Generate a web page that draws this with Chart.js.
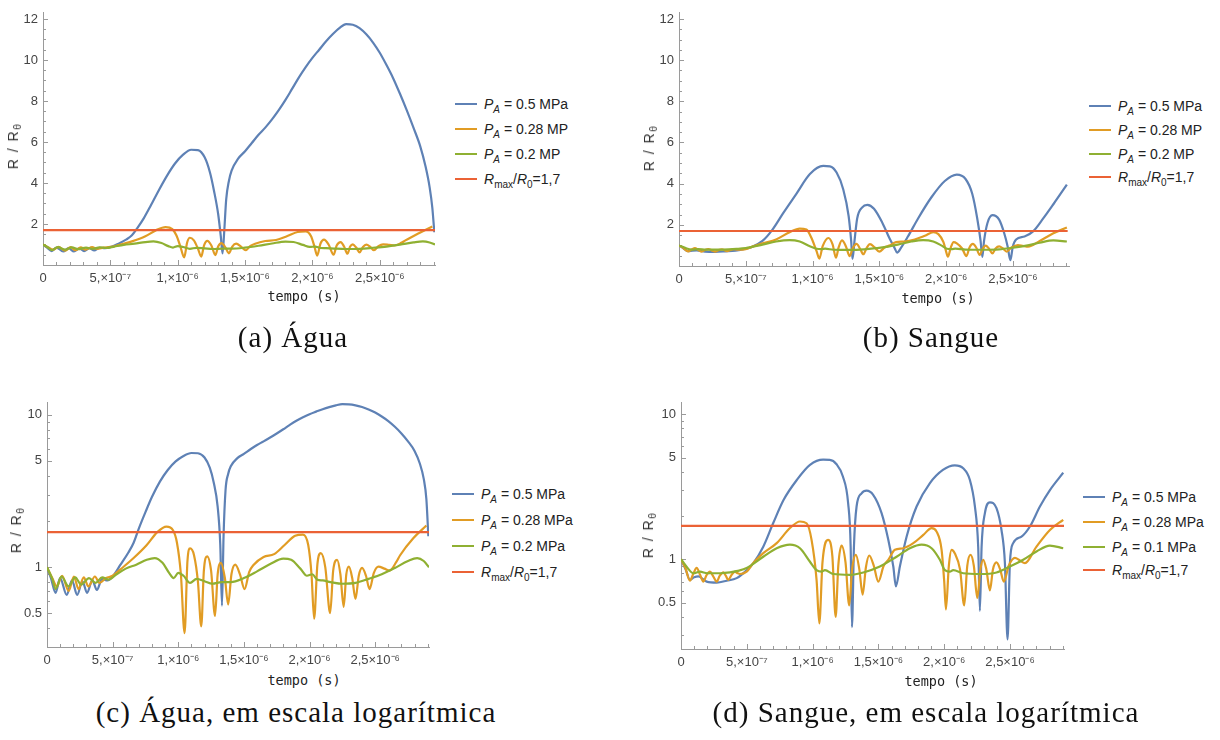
<!DOCTYPE html>
<html><head><meta charset="utf-8">
<script src="https://cdn.jsdelivr.net/npm/chart.js@4.4.1/dist/chart.umd.min.js"></script>
<style>
body{margin:0;background:#fff;width:1220px;height:740px;position:relative;overflow:hidden;font-family:'Liberation Sans',Arial,sans-serif;}
canvas{position:absolute;}
.ylab{position:absolute;transform:translate(-50%,-50%) rotate(-90deg);font-size:14px;color:#333;white-space:nowrap;letter-spacing:1.5px}
.ylab sub{font-size:10px;vertical-align:-3px;line-height:0}
.xlab{position:absolute;transform:translate(-50%,-50%);font-family:'DejaVu Sans Mono',monospace;font-size:13.5px;color:#222;white-space:nowrap}
.row{position:absolute;white-space:nowrap;transform:translateY(-50%);font-size:14px;color:#222;line-height:16px}
.row sub{font-size:10px;vertical-align:-4px;line-height:0}
.sw{position:absolute;height:2px;transform:translateY(-50%)}
.cap{position:absolute;transform:translate(-50%,-50%);font-family:'Liberation Serif',serif;font-size:29px;white-space:nowrap;color:#111;letter-spacing:1px}
</style></head>
<body>
<script>
// ---------- DATA (time in microseconds, value R/R0) ----------
const US = 1e-6;
// Water (a) and (c)
const waterBlue = [[0,1.0],[0.03,0.85],[0.065,0.68],[0.10,0.85],[0.15,0.66],[0.19,0.82],[0.23,0.66],[0.27,0.81],[0.305,0.68],[0.345,0.82],[0.38,0.71],[0.42,0.84],[0.46,0.82],[0.50,0.87],[0.56,1.04],[0.62,1.25],[0.66,1.45],[0.70,1.80],[0.75,2.3],[0.80,2.9],[0.86,3.65],[0.92,4.35],[0.98,4.95],[1.04,5.38],[1.10,5.62],[1.15,5.6],[1.20,5.25],[1.24,4.5],[1.27,3.6],[1.30,2.5],[1.32,1.4],[1.333,0.56],[1.345,1.6],[1.36,3.2],[1.38,4.1],[1.40,4.6],[1.45,5.2],[1.50,5.55],[1.55,5.95],[1.60,6.35],[1.65,6.7],[1.70,7.1],[1.75,7.55],[1.80,8.05],[1.85,8.6],[1.90,9.15],[1.95,9.65],[2.00,10.1],[2.05,10.5],[2.10,10.9],[2.15,11.25],[2.20,11.55],[2.25,11.75],[2.30,11.72],[2.35,11.55],[2.40,11.25],[2.45,10.85],[2.50,10.35],[2.55,9.75],[2.60,9.1],[2.65,8.35],[2.70,7.55],[2.75,6.7],[2.80,5.8],[2.84,4.8],[2.87,3.8],[2.89,2.8],[2.905,1.6]];
const waterOrange = [[0,1.0],[0.04,0.85],[0.075,0.75],[0.115,0.88],[0.165,0.70],[0.205,0.87],[0.24,0.72],[0.28,0.86],[0.315,0.75],[0.365,0.87],[0.40,0.79],[0.45,0.85],[0.50,0.88],[0.56,0.97],[0.66,1.15],[0.76,1.4],[0.84,1.7],[0.91,1.85],[0.96,1.75],[0.99,1.45],[1.02,0.9],[1.048,0.37],[1.07,1.1],[1.09,1.33],[1.12,1.2],[1.15,0.8],[1.175,0.41],[1.195,0.95],[1.22,1.18],[1.25,0.95],[1.28,0.48],[1.30,0.9],[1.325,1.07],[1.355,0.85],[1.38,0.57],[1.405,0.9],[1.434,1.04],[1.47,0.9],[1.505,0.72],[1.54,0.93],[1.575,1.04],[1.65,1.17],[1.73,1.22],[1.81,1.4],[1.89,1.61],[1.95,1.64],[1.99,1.4],[2.015,0.9],[2.035,0.46],[2.06,1.05],[2.086,1.24],[2.12,1.0],[2.157,0.50],[2.18,0.95],[2.21,1.12],[2.235,0.9],[2.26,0.55],[2.28,0.9],[2.30,1.01],[2.325,0.85],[2.35,0.62],[2.375,0.88],[2.40,0.99],[2.43,0.88],[2.457,0.72],[2.49,0.92],[2.525,1.01],[2.57,0.98],[2.61,0.95],[2.66,1.08],[2.69,1.2],[2.79,1.55],[2.89,1.88]];
const waterGreen = [[0,1.0],[0.04,0.84],[0.065,0.72],[0.11,0.87],[0.165,0.75],[0.215,0.86],[0.26,0.77],[0.32,0.85],[0.37,0.79],[0.42,0.86],[0.47,0.83],[0.53,0.90],[0.60,0.98],[0.68,1.04],[0.76,1.12],[0.82,1.15],[0.88,1.07],[0.93,0.92],[0.965,0.85],[1.0,0.92],[1.04,0.88],[1.09,0.79],[1.14,0.84],[1.20,0.81],[1.26,0.78],[1.33,0.8],[1.40,0.8],[1.50,0.85],[1.60,0.94],[1.70,1.05],[1.80,1.14],[1.86,1.12],[1.93,0.98],[1.98,0.88],[2.02,0.9],[2.06,0.83],[2.10,0.82],[2.16,0.8],[2.25,0.78],[2.35,0.79],[2.45,0.84],[2.55,0.9],[2.65,0.99],[2.75,1.1],[2.82,1.15],[2.87,1.1],[2.91,1.0]];
// Blood (b) and (d)
const bloodBlue = [[0,1.0],[0.035,0.85],[0.068,0.72],[0.10,0.75],[0.132,0.76],[0.195,0.70],[0.271,0.69],[0.347,0.71],[0.423,0.74],[0.50,0.84],[0.55,0.94],[0.625,1.22],[0.70,1.77],[0.78,2.57],[0.88,3.52],[0.98,4.47],[1.08,4.86],[1.13,4.84],[1.18,4.54],[1.23,3.72],[1.27,2.43],[1.289,1.22],[1.299,0.34],[1.314,1.22],[1.334,2.31],[1.372,2.85],[1.41,2.97],[1.46,2.78],[1.524,2.08],[1.575,1.36],[1.613,0.89],[1.633,0.65],[1.663,0.89],[1.714,1.43],[1.79,2.31],[1.89,3.34],[1.99,4.13],[2.08,4.44],[2.144,4.24],[2.195,3.52],[2.233,2.31],[2.258,1.22],[2.271,0.44],[2.284,1.22],[2.309,2.08],[2.347,2.47],[2.397,2.25],[2.435,1.59],[2.461,0.94],[2.481,0.28],[2.499,0.94],[2.524,1.29],[2.587,1.43],[2.651,1.68],[2.727,2.31],[2.803,3.0],[2.904,3.95]];
const bloodOrange = [[0,1.0],[0.035,0.86],[0.068,0.71],[0.095,0.8],[0.119,0.87],[0.145,0.78],[0.17,0.70],[0.195,0.78],[0.22,0.82],[0.245,0.76],[0.271,0.70],[0.295,0.77],[0.322,0.81],[0.34,0.77],[0.359,0.72],[0.385,0.78],[0.41,0.82],[0.43,0.8],[0.448,0.79],[0.499,0.82],[0.549,0.94],[0.625,1.1],[0.727,1.29],[0.828,1.64],[0.904,1.82],[0.954,1.77],[0.992,1.36],[1.03,0.72],[1.051,0.36],[1.075,0.95],[1.119,1.36],[1.15,1.05],[1.175,0.40],[1.195,0.9],[1.22,1.24],[1.25,0.95],[1.278,0.48],[1.30,0.85],[1.329,1.07],[1.355,0.85],[1.38,0.57],[1.405,0.88],[1.43,1.06],[1.465,0.9],[1.499,0.70],[1.54,0.9],[1.575,0.99],[1.625,1.16],[1.689,1.19],[1.765,1.29],[1.841,1.47],[1.904,1.64],[1.942,1.55],[1.98,1.16],[2.0,0.7],[2.013,0.45],[2.035,0.9],[2.056,1.16],[2.08,1.1],[2.12,0.85],[2.152,0.48],[2.175,0.9],[2.2,1.07],[2.225,0.9],[2.251,0.54],[2.275,0.85],[2.296,0.99],[2.32,0.85],[2.347,0.61],[2.37,0.85],[2.397,0.95],[2.425,0.85],[2.453,0.70],[2.49,0.9],[2.537,1.02],[2.575,0.98],[2.613,0.94],[2.701,1.22],[2.803,1.59],[2.904,1.87]];
const bloodGreen = [[0,1.0],[0.05,0.87],[0.094,0.80],[0.144,0.82],[0.20,0.80],[0.30,0.80],[0.372,0.81],[0.43,0.83],[0.499,0.87],[0.625,1.04],[0.727,1.19],[0.828,1.26],[0.904,1.19],[0.98,0.96],[1.03,0.84],[1.068,0.82],[1.094,0.84],[1.157,0.79],[1.284,0.78],[1.385,0.81],[1.511,0.89],[1.638,1.04],[1.739,1.19],[1.828,1.26],[1.904,1.19],[1.967,0.99],[2.005,0.84],[2.043,0.82],[2.068,0.84],[2.144,0.80],[2.271,0.79],[2.397,0.81],[2.499,0.89],[2.6,0.99],[2.701,1.13],[2.803,1.24],[2.904,1.19]];
// Threshold line Rmax/R0 = 1.7
const rmaxT = [0, 2.91];
const rmaxV = [1.7, 1.7];

// Ticks
const xTickVals = [0, 0.5, 1, 1.5, 2, 2.5];
const xTickLabels = ['0', '5,×10⁻⁷', '1,×10⁻⁶', '1,5×10⁻⁶', '2,×10⁻⁶', '2,5×10⁻⁶'];
const yLinTicks = [2, 4, 6, 8, 10, 12];
const yLogTicks = [0.5, 1, 5, 10];
const yLogMinor = [0.3, 0.4, 0.6, 0.7, 0.8, 0.9, 2, 3, 4, 6, 7, 8, 9];

// Legends
const PA = '<i>P</i><sub><i>A</i></sub>';
const RR = '<i>R</i><sub>max</sub>/<i>R</i><sub>0</sub>=1,7';
const legendA = [PA + ' = 0.5 MPa', PA + ' = 0.28 MP', PA + ' = 0.2 MP', RR];
const legendB = [PA + ' = 0.5 MPa', PA + ' = 0.28 MP', PA + ' = 0.2 MP', RR];
const legendC = [PA + ' = 0.5 MPa', PA + ' = 0.28 MPa', PA + ' = 0.2 MPa', RR];
const legendD = [PA + ' = 0.5 MPa', PA + ' = 0.28 MPa', PA + ' = 0.1 MPa', RR];
const captions = ['(a) Água', '(b) Sangue', '(c) Água, em escala logarítmica', '(d) Sangue, em escala logarítmica'];

const COLORS = ['#5E81B5', '#E19C24', '#8FB032', '#EB6235'];

// ---------- LAYOUT ----------
const panels = [
  {left:0, top:0, w:440, h:292, log:false, ymin:0, ymax:12.3, xmax:2.91, pad:{left:0,right:5,top:8,bottom:0}, yw:43, xh:27,
   series:[waterBlue, waterOrange, waterGreen], legend:legendA, legY:[104,129,154,179], legX:455, ylab:[13,146], xlab:[304,296], cap:[293,337]},
  {left:636, top:0, w:440, h:292, log:false, ymin:0, ymax:12.3, xmax:2.92, pad:{left:0,right:7,top:9,bottom:0}, yw:43, xh:26,
   series:[bloodBlue, bloodOrange, bloodGreen], legend:legendB, legY:[106,130,154,177], legX:1089, ylab:[649,148], xlab:[938,298], cap:[931,337]},
  {left:0, top:390, w:440, h:282, log:true, ymin:0.314, ymax:12, xmax:2.91, pad:{left:0,right:11,top:12,bottom:0}, yw:47, xh:25,
   series:[waterBlue, waterOrange, waterGreen], legend:legendC, legY:[494,520,546,572], legX:452, ylab:[16,530], xlab:[304,680], cap:[296,712]},
  {left:636, top:390, w:440, h:284, log:true, ymin:0.24, ymax:12, xmax:2.91, pad:{left:0,right:12,top:12,bottom:0}, yw:45, xh:25,
   series:[bloodBlue, bloodOrange, bloodGreen], legend:legendD, legY:[497,522,547,570], legX:1083, ylab:[648,535], xlab:[941,681], cap:[926,712]}
];

const toPts = arr => arr.map(([t, v]) => ({x: t * US, y: v}));

const mmaTicks = {
  id: 'mmaTicks',
  beforeDatasetsDraw(chart, args, o) {
    const {ctx, chartArea: a, scales: {x, y}} = chart;
    ctx.save();
    ctx.strokeStyle = '#9a9a9a';
    ctx.lineWidth = 1;
    const xt = (v, len) => { const p = Math.round(x.getPixelForValue(v)) + 0.5; ctx.beginPath(); ctx.moveTo(p, a.bottom); ctx.lineTo(p, a.bottom - len); ctx.stroke(); };
    const yt = (v, len) => { const p = Math.round(y.getPixelForValue(v)) + 0.5; if (p < a.top - 1 || p > a.bottom + 1) return; ctx.beginPath(); ctx.moveTo(a.left, p); ctx.lineTo(a.left + len, p); ctx.stroke(); };
    for (let i = 1; i * 0.1 <= o.xmax + 1e-9; i++) { const v = i * 0.1; xt(v * US, (i % 5 === 0) ? 5 : 3); }
    if (o.log) {
      yLogTicks.forEach(v => yt(v, 5));
      yLogMinor.forEach(v => yt(v, 3));
    } else {
      for (let i = 1; i * 0.5 <= o.ymax; i++) yt(i * 0.5, (i % 4 === 0) ? 5 : 3);
    }
    ctx.restore();
  }
};

panels.forEach((p, k) => {
  const c = document.createElement('canvas');
  c.width = p.w; c.height = p.h;
  c.style.left = p.left + 'px'; c.style.top = p.top + 'px';
  c.style.width = p.w + 'px'; c.style.height = p.h + 'px';
  document.body.appendChild(c);

  const ds = p.series.map((s, i) => ({
    data: toPts(s), borderColor: COLORS[i], borderWidth: 2.2, pointRadius: 0,
    cubicInterpolationMode: 'monotone', order: 4 - i, fill: false
  }));
  ds.push({data: rmaxT.map((t, i) => ({x: t * US, y: rmaxV[i]})), borderColor: COLORS[3], borderWidth: 2.2, pointRadius: 0, order: 0, fill: false});

  new Chart(c, {
    type: 'line',
    data: {datasets: ds},
    plugins: [mmaTicks],
    options: {
      responsive: false, animation: false, devicePixelRatio: 1,
      layout: {padding: p.pad},
      plugins: {legend: {display: false}, tooltip: {enabled: false}, mmaTicks: {log: p.log, xmax: p.xmax, ymax: p.ymax}},
      scales: {
        x: {
          type: 'linear', min: 0, max: p.xmax * US,
          grid: {display: false, drawTicks: false}, border: {display: true, color: '#9a9a9a', width: 1},
          afterBuildTicks: s => { s.ticks = xTickVals.map(v => ({value: v * US})); },
          afterFit: s => { s.height = p.xh; },
          ticks: {autoSkip: false, maxRotation: 0, padding: 6, color: '#444', font: {family: "'Liberation Sans', Arial, sans-serif", size: 13},
                  callback: (v, i) => xTickLabels[i]}
        },
        y: {
          type: p.log ? 'logarithmic' : 'linear', min: p.ymin, max: p.ymax,
          grid: {display: false, drawTicks: false}, border: {display: true, color: '#9a9a9a', width: 1},
          afterBuildTicks: s => { s.ticks = (p.log ? yLogTicks : yLinTicks).map(v => ({value: v})); },
          afterFit: s => { s.width = p.yw; },
          ticks: {autoSkip: false, padding: 5, color: '#444', font: {family: "'Liberation Sans', Arial, sans-serif", size: 13},
                  callback: (v, i) => String((p.log ? yLogTicks : yLinTicks)[i])}
        }
      }
    }
  });

  // axis titles
  const yl = document.createElement('div');
  yl.className = 'ylab'; yl.innerHTML = 'R / R<sub>θ</sub>';
  yl.style.left = p.ylab[0] + 'px'; yl.style.top = p.ylab[1] + 'px';
  document.body.appendChild(yl);
  const xl = document.createElement('div');
  xl.className = 'xlab'; xl.textContent = 'tempo (s)';
  xl.style.left = p.xlab[0] + 'px'; xl.style.top = p.xlab[1] + 'px';
  document.body.appendChild(xl);

  // legend
  p.legend.forEach((txt, i) => {
    const sw = document.createElement('div');
    sw.className = 'sw'; sw.style.background = COLORS[i];
    sw.style.left = p.legX + 'px'; sw.style.width = '22px'; sw.style.top = p.legY[i] + 'px';
    document.body.appendChild(sw);
    const r = document.createElement('div');
    r.className = 'row'; r.innerHTML = txt;
    r.style.left = (p.legX + 29) + 'px'; r.style.top = p.legY[i] + 'px';
    document.body.appendChild(r);
  });

  // caption
  const cp = document.createElement('div');
  cp.className = 'cap'; cp.textContent = captions[k];
  cp.style.left = p.cap[0] + 'px'; cp.style.top = p.cap[1] + 'px';
  document.body.appendChild(cp);
});
</script>
</body></html>
